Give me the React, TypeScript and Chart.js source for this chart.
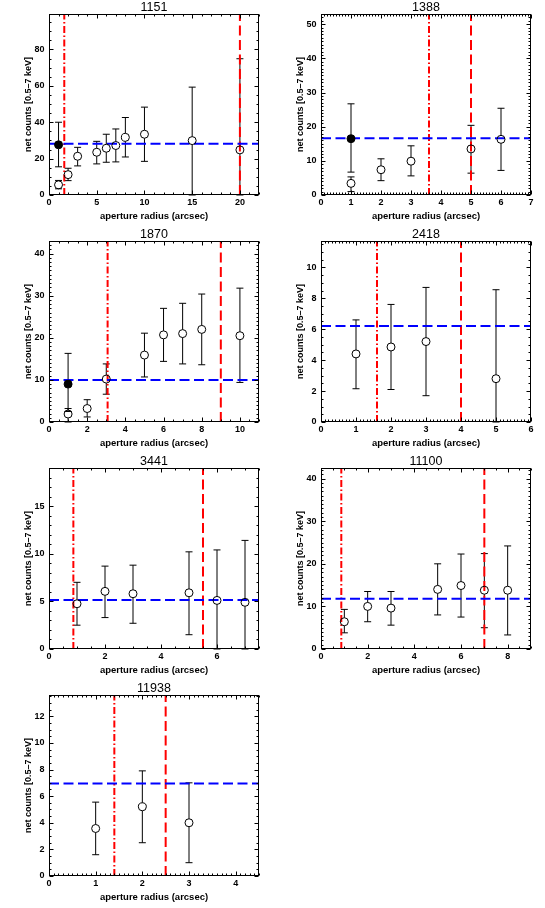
import React, { useEffect, useRef } from "react";
import { Chart, registerables } from "chart.js";
Chart.register(...registerables);

// ---- data ----
const panelIds = ["1151", "1388", "1870", "2418", "3441", "11100", "11938"];

const r1151 = [1, 2, 3, 5, 6, 7, 8, 10, 15, 20];
const c1151 = [5.6, 11.2, 21.3, 23.5, 25.7, 27.2, 31.7, 33.4, 29.9, 24.8];
const lo1151 = [3.4, 7.9, 16.0, 17.1, 18.0, 18.2, 20.9, 18.5, 0, 0];
const hi1151 = [8.0, 14.7, 26.2, 29.5, 33.4, 36.3, 42.6, 48.3, 59.3, 74.9];

const r1388 = [1, 2, 3, 5, 6];
const c1388 = [3.4, 7.4, 9.9, 13.5, 16.3];
const lo1388 = [1.0, 4.2, 5.6, 6.4, 7.2];
const hi1388 = [5.3, 10.6, 14.4, 20.4, 25.4];

const r1870 = [1, 2, 3, 5, 6, 7, 8, 10];
const c1870 = [1.9, 3.2, 10.2, 15.9, 20.7, 21.0, 22.0, 20.5];
const lo1870 = [0, 1.2, 6.6, 10.7, 14.4, 13.8, 13.6, 9.4];
const hi1870 = [3.2, 5.3, 13.8, 21.1, 27.0, 28.2, 30.4, 31.8];

const r2418 = [1, 2, 3, 5];
const c2418 = [4.4, 4.85, 5.2, 2.8];
const lo2418 = [2.15, 2.1, 1.7, 0];
const hi2418 = [6.6, 7.6, 8.7, 8.55];

const r3441 = [1, 2, 3, 5, 6, 7];
const c3441 = [4.75, 6.05, 5.8, 5.9, 5.1, 4.9];
const lo3441 = [2.5, 3.3, 2.7, 1.5, 0, 0];
const hi3441 = [7.0, 8.7, 8.8, 10.2, 10.4, 11.4];

const r11100 = [1, 2, 3, 5, 6, 7, 8];
const c11100 = [6.4, 10.0, 9.6, 14.0, 14.9, 13.8, 13.8];
const lo11100 = [3.8, 6.4, 5.6, 8.0, 7.5, 5.0, 3.3];
const hi11100 = [9.3, 13.5, 13.5, 20.0, 22.3, 22.4, 24.2];

const r11938 = [1, 2, 3];
const c11938 = [3.57, 5.2, 4.0];
const lo11938 = [1.6, 2.5, 1.0];
const hi11938 = [5.55, 7.9, 7.0];

// filled (black) points
const fr1151 = [1];
const fc1151 = [27.6];
const flo1151 = [15.5];
const fhi1151 = [40.0];
const fr1388 = [1];
const fc1388 = [16.5];
const flo1388 = [6.7];
const fhi1388 = [26.7];
const fr1870 = [1];
const fc1870 = [9.0];
const flo1870 = [2.5];
const fhi1870 = [16.3];

// reference lines
const meanCounts = [28.2, 16.6, 10.0, 6.2, 5.15, 11.8, 6.95];
const psfRadius = [1.6, 3.6, 3.07, 1.6, 0.87, 0.87, 1.4];
const extRadius = [20, 5, 9, 4, 5.5, 7, 2.5];

// axes
const xMax = [22, 7, 11, 6, 7.5, 9, 4.5];
const yMax = [99.5, 53, 43, 11.7, 19, 42.5, 13.6];
const xStep = [5, 1, 2, 1, 2, 2, 1];
const yStep = [20, 10, 10, 2, 5, 10, 2];

const openR = [r1151, r1388, r1870, r2418, r3441, r11100, r11938];
const openC = [c1151, c1388, c1870, c2418, c3441, c11100, c11938];
const openLo = [lo1151, lo1388, lo1870, lo2418, lo3441, lo11100, lo11938];
const openHi = [hi1151, hi1388, hi1870, hi2418, hi3441, hi11100, hi11938];
const fillR = [fr1151, fr1388, fr1870, [], [], [], []];
const fillC = [fc1151, fc1388, fc1870, [], [], [], []];
const fillLo = [flo1151, flo1388, flo1870, [], [], [], []];
const fillHi = [fhi1151, fhi1388, fhi1870, [], [], [], []];

const FONT = '"Liberation Sans", Arial, sans-serif';
const PT_R = 4;

function minorCount(step: number) {
  const lead = step / Math.pow(10, Math.floor(Math.log10(step) + 1e-9));
  const l = Math.round(lead);
  if (l === 1) return 10;
  if (l === 2) return 4;
  return 5;
}

function Panel({ idx, left, top, width, height }: { idx: number; left: number; top: number; width: number; height: number }) {
  const ref = useRef<HTMLCanvasElement>(null);
  useEffect(() => {
    const canvas = ref.current!;
    const xr = openR[idx], yc = openC[idx];
    const open = xr.map((x, i) => ({ x, y: yc[i] }));
    const filled = fillR[idx].map((x, i) => ({ x, y: fillC[idx][i] }));
    const bars: { x: number; y: number; lo: number; hi: number }[] = [];
    xr.forEach((x, i) => bars.push({ x, y: yc[i], lo: openLo[idx][i], hi: openHi[idx][i] }));
    fillR[idx].forEach((x, i) => bars.push({ x, y: fillC[idx][i], lo: fillLo[idx][i], hi: fillHi[idx][i] }));

    const plugin = {
      id: "idl" + idx,
      beforeDatasetsDraw(chart: any) {
        const { ctx, chartArea: ca } = chart;
        const xs = chart.scales.x, ys = chart.scales.y;
        ctx.save();
        ctx.beginPath();
        ctx.rect(ca.left, ca.top, ca.right - ca.left, ca.bottom - ca.top + 1);
        ctx.clip();
        ctx.strokeStyle = "#000";
        ctx.lineWidth = 1;
        bars.forEach((b) => {
          const px = xs.getPixelForValue(b.x);
          const pc = ys.getPixelForValue(b.y);
          const ph = ys.getPixelForValue(b.hi);
          const pl = Math.min(ys.getPixelForValue(b.lo), ca.bottom);
          ctx.beginPath();
          if (ph < pc - PT_R) {
            ctx.moveTo(px, ph);
            ctx.lineTo(px, pc - PT_R);
          }
          if (pl > pc + PT_R) {
            ctx.moveTo(px, pc + PT_R);
            ctx.lineTo(px, pl);
          }
          ctx.moveTo(px - 3.5, ph);
          ctx.lineTo(px + 3.5, ph);
          ctx.moveTo(px - 3.5, pl);
          ctx.lineTo(px + 3.5, pl);
          ctx.stroke();
        });
        ctx.restore();
      },
      afterDraw(chart: any) {
        const { ctx, chartArea: ca } = chart;
        const xs = chart.scales.x, ys = chart.scales.y;
        ctx.save();
        ctx.strokeStyle = "#000";
        ctx.lineWidth = 1;
        const L = Math.round(ca.left) + 0.5, R = Math.round(ca.right) - 0.5;
        const T = Math.round(ca.top) + 0.5, B = Math.round(ca.bottom) - 0.5;
        ctx.strokeRect(L, T, R - L, B - T);
        ctx.beginPath();
        const xstep = xStep[idx], nx = minorCount(xstep);
        const xm = xstep / nx;
        for (let k = 0; k * xm <= xMax[idx] + 1e-9; k++) {
          const v = k * xm;
          const major = k % nx === 0;
          const len = major ? 4 : 2;
          const p = Math.round(xs.getPixelForValue(v)) + 0.5;
          ctx.moveTo(p, B);
          ctx.lineTo(p, B - len);
          ctx.moveTo(p, T);
          ctx.lineTo(p, T + len);
        }
        const ystep = yStep[idx], ny = minorCount(ystep);
        const ym = ystep / ny;
        for (let k = 0; k * ym <= yMax[idx] + 1e-9; k++) {
          const v = k * ym;
          const major = k % ny === 0;
          const len = major ? 4 : 2;
          const p = Math.round(ys.getPixelForValue(v)) + 0.5;
          ctx.moveTo(L, p);
          ctx.lineTo(L + len, p);
          ctx.moveTo(R, p);
          ctx.lineTo(R - len, p);
        }
        ctx.stroke();
        ctx.fillStyle = "#000";
        ctx.font = "12.5px " + FONT;
        ctx.textAlign = "center";
        ctx.textBaseline = "middle";
        ctx.fillText(panelIds[idx], (ca.left + ca.right) / 2, 7.5);
        ctx.restore();
      },
    };

    const tickFont = { family: FONT, size: 9, weight: "bold" as const };
    const xTitleFont = { family: FONT, size: 9.5, weight: "bold" as const };
    const yTitleFont = { family: FONT, size: 9, weight: "bold" as const };
    const chart = new Chart(canvas, {
      type: "scatter",
      data: {
        datasets: [
          {
            data: filled,
            pointRadius: PT_R,
            pointBorderWidth: 1,
            pointBorderColor: "#000",
            pointBackgroundColor: "#000",
            showLine: false,
          },
          {
            data: open,
            pointRadius: PT_R,
            pointBorderWidth: 1,
            pointBorderColor: "#000",
            pointBackgroundColor: "rgba(0,0,0,0)",
            showLine: false,
          },
          {
            data: [
              { x: 0, y: meanCounts[idx] },
              { x: xMax[idx], y: meanCounts[idx] },
            ],
            showLine: true,
            borderColor: "#0000ff",
            borderWidth: 2,
            borderDash: [10, 4.5],
            pointRadius: 0,
          },
          {
            data: [
              { x: psfRadius[idx], y: 0 },
              { x: psfRadius[idx], y: yMax[idx] },
            ],
            showLine: true,
            borderColor: "#ff0000",
            borderWidth: 2,
            borderDash: [7, 2.5, 1.5, 2.5],
            pointRadius: 0,
          },
          {
            data: [
              { x: extRadius[idx], y: 0 },
              { x: extRadius[idx], y: yMax[idx] },
            ],
            showLine: true,
            borderColor: "#ff0000",
            borderWidth: 2,
            borderDash: [10, 4.5],
            pointRadius: 0,
          },
        ],
      },
      options: {
        animation: false,
        responsive: false,
        devicePixelRatio: 1,
        layout: { padding: { top: 14, right: width - 259, bottom: 0, left: 0 } },
        plugins: { legend: { display: false }, tooltip: { enabled: false }, title: { display: false } },
        scales: {
          x: {
            type: "linear",
            min: 0,
            max: xMax[idx],
            afterFit: (s: any) => {
              s.height = 32;
            },
            grid: { display: false, drawTicks: false },
            border: { display: false },
            ticks: {
              stepSize: xStep[idx],
              includeBounds: false,
              padding: 2.5,
              color: "#000",
              font: tickFont,
              maxRotation: 0,
              autoSkip: false,
            },
            title: {
              display: true,
              text: "aperture radius (arcsec)",
              color: "#000",
              font: xTitleFont,
              padding: { top: 0, bottom: 5.3 },
            },
          },
          y: {
            type: "linear",
            min: 0,
            max: yMax[idx],
            afterFit: (s: any) => {
              s.width = 49;
            },
            grid: { display: false, drawTicks: false },
            border: { display: false },
            ticks: {
              stepSize: yStep[idx],
              includeBounds: false,
              padding: 4.5,
              color: "#000",
              font: tickFont,
              autoSkip: false,
            },
            title: {
              display: true,
              text: "net counts [0.5\u20137 keV]",
              color: "#000",
              font: yTitleFont,
              padding: { top: 23.6, bottom: 0 },
            },
          },
        },
      } as any,
      plugins: [plugin],
    });
    return () => chart.destroy();
  }, [idx, width, height]);
  return (
    <canvas
      ref={ref}
      width={width}
      height={height}
      style={{ position: "absolute", left, top, width, height }}
    />
  );
}

export default function App() {
  const cells = panelIds.map((_, i) => {
    const col = i % 2;
    const row = Math.floor(i / 2);
    return { idx: i, left: col * 272, top: row * 227, width: col === 0 ? 272 : 273, height: 227 };
  });
  return (
    <div style={{ position: "absolute", left: 0, top: 0, width: 545, height: 908, background: "#fff" }}>
      {cells.map((c) => (
        <Panel key={c.idx} {...c} />
      ))}
    </div>
  );
}
